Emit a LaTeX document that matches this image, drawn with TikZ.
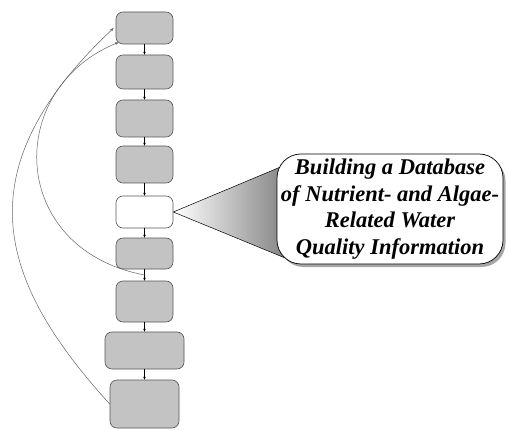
\documentclass[tikz,border=0pt]{standalone}
\usepackage{fontspec}
\setmainfont{Liberation Serif}
\usetikzlibrary{arrows.meta, calc}

\definecolor{boxgray}{RGB}{195,195,195}
\definecolor{edgegray}{RGB}{85,85,85}
\definecolor{loopgray}{RGB}{100,100,100}

\begin{document}
\begin{tikzpicture}[x=1pt, y=1pt, >=Stealth,
    stepbox/.style={draw=edgegray, fill=boxgray, rounded corners=7pt, line width=0.6pt, inner sep=0pt},
    flow/.style={black, line width=0.6pt, {-Stealth[length=3pt, width=2.5pt]}},
    loop/.style={loopgray, line width=0.5pt, {-Stealth[length=4pt, width=3pt]}}]

    \useasboundingbox (0,0) rectangle (506,429);

    % the column of steps
    \node[stepbox, minimum width=57pt, minimum height=32pt] (s1) at (144.5,401) {};
    \node[stepbox, minimum width=57pt, minimum height=34pt] (s2) at (144.5,357) {};
    \node[stepbox, minimum width=57pt, minimum height=37pt] (s3) at (144.5,310.5) {};
    \node[stepbox, minimum width=57pt, minimum height=37pt] (s4) at (144.5,264.5) {};
    \node[stepbox, fill=white, minimum width=57pt, minimum height=32pt] (s5) at (144.5,217) {};
    \node[stepbox, minimum width=57pt, minimum height=31pt] (s6) at (144.5,175.5) {};
    \node[stepbox, minimum width=57pt, minimum height=41pt] (s7) at (144.5,127.5) {};
    \node[stepbox, minimum width=79pt, minimum height=37pt] (s8) at (144.5,78.5) {};
    \node[stepbox, minimum width=69pt, minimum height=48pt] (s9) at (144.5,25) {};

    \foreach \a/\b in {s1/s2, s2/s3, s3/s4, s4/s5, s5/s6, s6/s7, s7/s8, s8/s9}
        \draw[flow] (\a.south) -- (\b.north);

    \coordinate (j) at ($(s6.south)!0.5!(s7.north)$);

    % feedback loops back to the first step
    \draw[loop] (s9.west) .. controls (-4,150) and (-36,260) .. ([xshift=-2pt]s1.west);
    \draw[loop] (j) .. controls (8,180) and (4,340) .. ([xshift=3pt,yshift=2pt]s1.south west);

    % callout for the highlighted step
    \coordinate (ct) at (290,266);
    \coordinate (cb) at (290,169);
    \shade[left color=white, right color=gray, draw=black, line width=0.5pt]
        (s5.east) -- (ct) -- (cb) -- cycle;

    \fill[gray!70, rounded corners=24pt] (279.5,162) rectangle (505.5,272);
    \node[draw=black, fill=white, rounded corners=24pt, line width=0.7pt,
          minimum width=226pt, minimum height=110pt, align=center,
          font=\fontsize{22.5}{26.5}\selectfont\bfseries\itshape] (note) at (390,220)
        {Building a Database\\of Nutrient- and Algae-\\Related Water\\Quality Information};

\end{tikzpicture}
\end{document}
